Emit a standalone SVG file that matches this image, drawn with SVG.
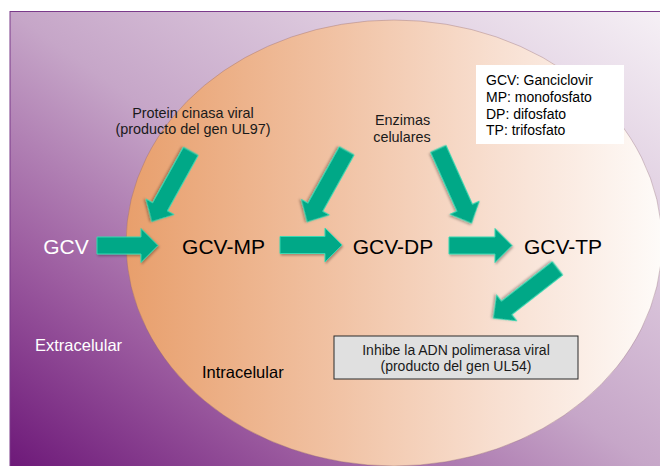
<svg xmlns="http://www.w3.org/2000/svg" width="660" height="466" viewBox="0 0 660 466">
<defs>
<linearGradient id="bg" x1="0" y1="1" x2="1" y2="0">
<stop offset="0" stop-color="#6a1476"/>
<stop offset="0.25" stop-color="#9c5ca0"/>
<stop offset="0.5" stop-color="#c6a6c8"/>
<stop offset="1" stop-color="#f6f1f6"/>
</linearGradient>
<linearGradient id="cell" gradientUnits="userSpaceOnUse" x1="126" y1="0" x2="662" y2="0">
<stop offset="0" stop-color="#e89f6c"/>
<stop offset="0.4" stop-color="#f1c3a5"/>
<stop offset="0.7" stop-color="#f8e0d2"/>
<stop offset="1" stop-color="#fefbf9"/>
</linearGradient>
<filter id="sh" x="-20%" y="-20%" width="140%" height="140%">
<feDropShadow dx="1" dy="1.5" stdDeviation="1.2" flood-color="#000" flood-opacity="0.3"/>
</filter>
</defs>
<style>
.t{font-family:"Liberation Sans",Arial,sans-serif}
.big{font-size:21px}
.sm{font-size:14.4px}
.lg{font-size:14px}
.mid{font-size:16.5px}
.arr{fill:#00a887;stroke:#3ad8b2;stroke-width:1;filter:url(#sh)}
</style>
<rect id="background" x="10" y="11.5" width="660" height="470" fill="url(#bg)" stroke="#7a3a8a" stroke-width="1"/>
<g id="cell-region">
<ellipse cx="394" cy="243" rx="268" ry="223" fill="url(#cell)" stroke="#8a6070" stroke-opacity="0.35" stroke-width="1"/>
</g>
<g id="connectors">
<path class="arr" transform="translate(97,245.5)" d="M0,-8.5H44V-17L61,0L44,17V8.5H0Z"/>
<path class="arr" transform="translate(280,245)" d="M0,-8.5H45V-17L62,0L45,17V8.5H0Z"/>
<path class="arr" transform="translate(449,245.5)" d="M0,-8.5H46V-17L63,0L46,17V8.5H0Z"/>
<path class="arr" transform="translate(190.8,151.2) rotate(119)" d="M0,-8.5H63.6V-16L80.6,0L63.6,16V8.5H0Z"/>
<path class="arr" transform="translate(346.7,150.8) rotate(119.1)" d="M0,-8.5H64.5V-16L81.5,0L64.5,16V8.5H0Z"/>
<path class="arr" transform="translate(438.3,148.8) rotate(65.9)" d="M0,-8.5H64.6V-16L81.6,0L64.6,16V8.5H0Z"/>
<path class="arr" transform="translate(557.5,268.3) rotate(142.1)" d="M0,-8.5H64.4V-16.5L81.4,0L64.4,16.5V8.5H0Z"/>
</g>
<g id="gcv"><text class="t big" x="66" y="254" text-anchor="middle" fill="#fff">GCV</text></g>
<g id="gcv-mp"><text class="t big" x="223.5" y="254" text-anchor="middle" fill="#000">GCV-MP</text></g>
<g id="gcv-dp"><text class="t big" x="393" y="254" text-anchor="middle" fill="#000">GCV-DP</text></g>
<g id="gcv-tp"><text class="t big" x="563" y="254" text-anchor="middle" fill="#000">GCV-TP</text></g>
<g id="protein-kinase" class="t sm" fill="#1a1a1a" text-anchor="middle">
<text x="193" y="118">Protein cinasa viral</text>
<text x="193" y="133.5">(producto del gen UL97)</text>
</g>
<g id="enzimas" class="t sm" fill="#1a1a1a" text-anchor="middle">
<text x="402.5" y="125">Enzimas</text>
<text x="402" y="141.7">celulares</text>
</g>
<g id="legend">
<rect x="476" y="65" width="148" height="79" fill="#fff"/>
<g class="t lg" fill="#000">
<text x="486" y="85">GCV: Ganciclovir</text>
<text x="486" y="101.8">MP: monofosfato</text>
<text x="486" y="118.6">DP: difosfato</text>
<text x="486" y="135.4">TP: trifosfato</text>
</g>
</g>
<g id="inhibe">
<rect x="334" y="336" width="244" height="43" fill="#e0e0e0" stroke="#2a2a2a" stroke-width="1"/>
<g class="t lg" fill="#1a1a1a" text-anchor="middle">
<text x="456" y="355">Inhibe la ADN polimerasa viral</text>
<text x="456" y="370.8">(producto del gen UL54)</text>
</g>
</g>
<g id="extracelular"><text class="t mid" x="35" y="350.7" fill="#fff">Extracelular</text></g>
<g id="intracelular"><text class="t mid" x="202" y="378" fill="#000">Intracelular</text></g>
</svg>
